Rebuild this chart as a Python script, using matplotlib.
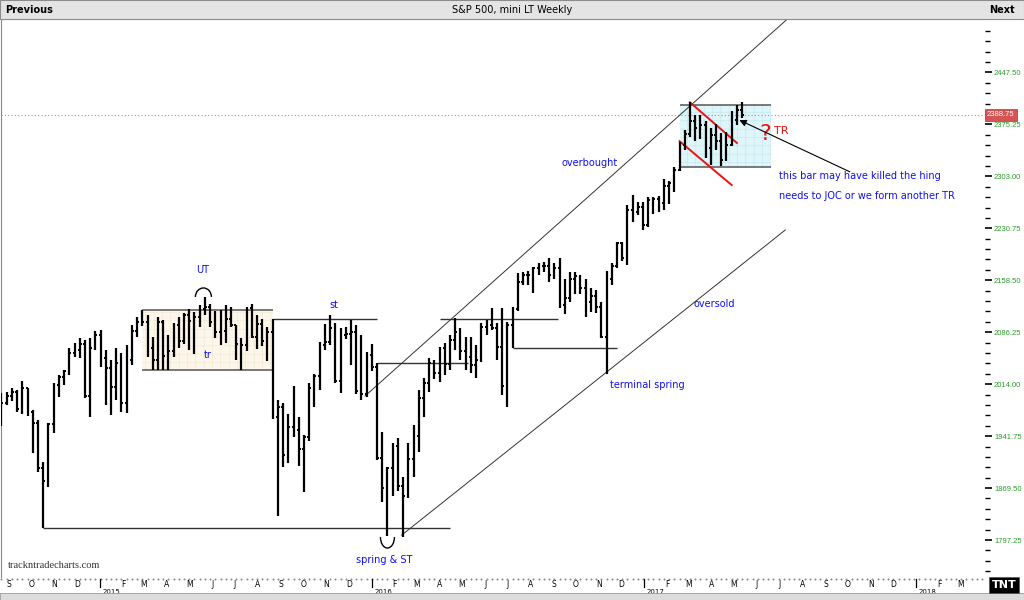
import numpy as np
import pandas as pd
import matplotlib
matplotlib.use("Agg")
import matplotlib.pyplot as plt
import matplotlib.dates as mdates
from matplotlib.patches import Rectangle, Arc
from matplotlib.transforms import blended_transform_factory
from matplotlib.ticker import FixedLocator

# ES mini, weekly bars (week ending Friday), Aug 2014 .. May 2017
week_end = pd.date_range("2014-08-22", periods=143, freq="W-FRI")

bar_open = [
    # 2014
    1960, 1988, 1997, 2003, 1980, 2008, 1975, 1960, 1898, 1880, 1958, 2013, 2024, 2032, 2057, 2062, 2070, 1998, 2064, 2082,
    # 2015
    2050, 2036, 2010, 2044, 1988, 2047, 2088, 2100, 2101, 2065, 2048, 2100, 2053, 2060, 2096, 2074, 2110, 2102, 2108, 2118,
    2122, 2100, 2086, 2088, 2104, 2096, 2070, 2068, 2120, 2080, 2098, 2074, 2086, 1968, 1982, 1915, 1955, 1950, 1924, 1940,
    2008, 2026, 2068, 2072, 2092, 2018, 2083, 2084, 2086, 2004, 2000, 2054,
    # 2016
    2038, 1912, 1870, 1898, 1928, 1872, 1858, 1910, 1942, 1995, 2016, 2044, 2030, 2064, 2042, 2075, 2086, 2060, 2052, 2040,
    2048, 2094, 2096, 2092, 2066, 2012, 2096, 2118, 2156, 2166, 2166, 2175, 2178, 2178, 2166, 2176, 2124, 2134, 2160, 2164,
    2148, 2128, 2136, 2122, 2080, 2160, 2178, 2210, 2190, 2256, 2254, 2260,
    # 2017
    2236, 2270, 2272, 2266, 2290, 2294, 2312, 2347, 2362, 2380, 2370, 2375, 2342, 2360, 2352, 2326, 2346, 2382, 2396,
]
bar_high = [
    2002, 2003, 2009, 2006, 2018, 2008, 1978, 1964, 1906, 1960, 2015, 2027, 2034, 2064, 2071, 2078, 2076, 2078, 2088, 2089,
    2062, 2048, 2064, 2057, 2068, 2096, 2107, 2117, 2110, 2080, 2107, 2103, 2082, 2099, 2108, 2113, 2118, 2114, 2124, 2135,
    2126, 2116, 2117, 2124, 2122, 2096, 2078, 2122, 2126, 2110, 2104, 2094, 2104, 1992, 1988, 1972, 2012, 1968, 1943, 2015,
    2028, 2073, 2097, 2110, 2099, 2092, 2093, 2103, 2096, 2082, 2059, 2070,
    2043, 1947, 1899, 1932, 1939, 1885, 1932, 1957, 2006, 2023, 2050, 2048, 2066, 2071, 2082, 2106, 2092, 2079, 2080, 2068,
    2099, 2103, 2120, 2099, 2120, 2100, 2121, 2168, 2170, 2171, 2177, 2183, 2184, 2189, 2183, 2189, 2160, 2170, 2170, 2166,
    2160, 2148, 2145, 2128, 2172, 2183, 2212, 2212, 2263, 2277, 2267, 2267,
    2274, 2274, 2276, 2300, 2296, 2316, 2351, 2368, 2406, 2388, 2388, 2380, 2370, 2376, 2364, 2365, 2394, 2402, 2406,
]
bar_low = [
    1956, 1985, 1990, 1975, 1972, 1970, 1918, 1892, 1814, 1871, 1946, 1996, 2013, 2027, 2052, 2050, 1995, 1968, 2062, 2038,
    1985, 1971, 1992, 1975, 1974, 2040, 2080, 2095, 2052, 2034, 2034, 2034, 2034, 2052, 2064, 2070, 2062, 2056, 2093, 2110,
    2094, 2078, 2069, 2071, 2094, 2048, 2034, 2060, 2078, 2063, 2067, 2046, 1966, 1831, 1899, 1905, 1940, 1900, 1864, 1935,
    1982, 2006, 2062, 2069, 2016, 2002, 2077, 2041, 2000, 1992, 1996, 2032,
    1909, 1850, 1803, 1858, 1866, 1801, 1855, 1885, 1920, 1968, 2003, 2021, 2017, 2027, 2034, 2061, 2048, 2034, 2030, 2023,
    2045, 2082, 2089, 2048, 1999, 1982, 2064, 2116, 2152, 2152, 2141, 2166, 2170, 2156, 2160, 2120, 2112, 2128, 2140, 2140,
    2108, 2114, 2113, 2078, 2028, 2152, 2176, 2186, 2180, 2240, 2249, 2228,
    2232, 2250, 2254, 2256, 2264, 2281, 2310, 2340, 2358, 2352, 2355, 2329, 2319, 2340, 2318, 2324, 2345, 2374, 2384,
]
bar_close = [
    1988, 1997, 2003, 1980, 2008, 1975, 1960, 1898, 1880, 1958, 2013, 2024, 2032, 2057, 2062, 2070, 1998, 2064, 2082, 2050,
    2036, 2010, 2044, 1988, 2047, 2088, 2100, 2101, 2065, 2048, 2100, 2053, 2060, 2096, 2074, 2110, 2102, 2108, 2118, 2122,
    2100, 2086, 2088, 2104, 2096, 2070, 2068, 2120, 2080, 2098, 2074, 2086, 1968, 1982, 1915, 1955, 1950, 1924, 1940, 2008,
    2026, 2068, 2072, 2092, 2018, 2083, 2084, 2086, 2004, 2000, 2054, 2038,
    1912, 1870, 1898, 1928, 1872, 1858, 1910, 1942, 1995, 2016, 2044, 2030, 2064, 2042, 2075, 2086, 2060, 2052, 2040, 2048,
    2094, 2096, 2092, 2066, 2012, 2096, 2118, 2156, 2166, 2166, 2175, 2178, 2178, 2166, 2176, 2124, 2134, 2160, 2164, 2148,
    2128, 2136, 2122, 2080, 2160, 2178, 2210, 2190, 2256, 2254, 2260, 2236,
    2270, 2272, 2266, 2290, 2294, 2312, 2347, 2362, 2380, 2370, 2375, 2342, 2360, 2352, 2326, 2346, 2382, 2396, 2388.75,
]
last_price = 2388.75

# price scale of the chart
price_ticks = [1797.25, 1869.50, 1941.75, 2014.00, 2086.25, 2158.50, 2230.75, 2303.00, 2375.25, 2447.50]

# drawn study lines: (start, end, price)
level_lines = [
    ("2014-10-17", "2016-04-15", 1814),
    ("2015-08-21", "2016-01-08", 2104),
    ("2016-01-08", "2016-05-09", 2043),
    ("2016-04-01", "2016-09-07", 2104),
    ("2016-07-08", "2016-11-25", 2064),
]
range_2015 = ("2015-02-27", "2015-08-21", 2034, 2117)
range_2017 = ("2017-02-17", "2017-06-20", 2316, 2402)
channel_upper = [("2015-12-23", 1997.6), ("2017-07-13", 2523.0)]
channel_lower = [("2016-02-10", 1804.0), ("2017-07-09", 2228.5)]
red_upper = [("2017-03-03", 2406.0), ("2017-05-05", 2349.5)]
red_lower = [("2017-02-17", 2352.0), ("2017-04-28", 2291.0)]

notes = [
    ("UT", "2015-05-19", 2172.8),
    ("tr", "2015-05-26", 2054.6),
    ("st", "2015-11-11", 2124.0),
    ("spring & ST", "2016-01-18", 1769.4),
    ("overbought", "2016-10-20", 2321.7),
    ("oversold", "2017-04-04", 2125.5),
    ("terminal spring", "2017-01-05", 2012.9),
]
comment_lines = ["this bar may have killed the hing", "needs to JOC or we form another TR"]


def dn(s):
    return mdates.date2num(pd.Timestamp(s))


W, H = 1024, 600
fig = plt.figure(figsize=(W / 100, H / 100), dpi=100)
fig.patch.set_facecolor("white")
plt.rcParams["hatch.linewidth"] = 0.4


def fx(px):
    return px / W


def fy(py):
    return 1 - py / H


ax = fig.add_axes([fx(1), fy(577), fx(985) - fx(1), fy(19) - fy(577)])
ax.set_xlim(dn("2014-08-21 08:00"), dn("2018-04-03"))
ax.set_ylim(1745.8, 2521.9)

# range boxes
for (a, b, lo, hi), fc, hc in [(range_2015, "#fdf6ea", "#f2e6d4"), (range_2017, "#def5f9", "#c3e6ee")]:
    ax.add_patch(Rectangle((dn(a), lo), dn(b) - dn(a), hi - lo, facecolor=fc,
                           edgecolor=hc, hatch="++", lw=0, zorder=1))
    ax.hlines([lo, hi], dn(a), dn(b), color="#555555", lw=1.1, zorder=2)

for a, b, p in level_lines:
    ax.hlines(p, dn(a), dn(b), color="#333333", lw=1.0, zorder=2)

for pts, col, lw in [(channel_upper, "#333333", 0.7), (channel_lower, "#333333", 0.7),
                     (red_upper, "#ee1111", 1.4), (red_lower, "#ee1111", 1.4)]:
    ax.plot([dn(p[0]) for p in pts], [p[1] for p in pts], color=col, lw=lw, zorder=2)

ax.axhline(last_price, color="#e07878", ls=(0, (1, 2)), lw=0.8, zorder=1)

# OHLC bars
d = mdates.date2num(week_end)
ax.vlines(d, bar_low, bar_high, color="black", lw=1.6, zorder=3)
ax.hlines(bar_open, d - 2.4, d, color="black", lw=1.4, zorder=3)
ax.hlines(bar_close, d, d + 2.4, color="black", lw=1.4, zorder=3)

# annotations
for txt, when, p in notes:
    ax.text(dn(when), p, txt, color="#1010ee", fontsize=7, ha="center", va="center", zorder=4)
for i, txt in enumerate(comment_lines):
    ax.text(dn("2017-06-30"), 2303 - 27.2 * i, txt, color="#1010ee", fontsize=7, ha="left", va="center")
ax.text(dn("2017-06-12"), 2362, "?", color="#ee1111", fontsize=16, ha="center", va="center")
ax.text(dn("2017-07-04"), 2366, "TR", color="#ee1111", fontsize=8, ha="center", va="center")
ax.annotate("", xy=(dn("2017-05-05"), 2382.9), xytext=(dn("2017-10-07"), 2307.7),
            arrowprops=dict(arrowstyle="-|>", color="black", lw=0.8, mutation_scale=10))
ax.add_patch(Arc((dn("2015-05-20"), 2135.3), 21.5, 25, theta1=0, theta2=180, color="black", lw=1.0))
ax.add_patch(Arc((dn("2016-01-22"), 1801.4), 18.8, 30.6, theta1=180, theta2=360, color="black", lw=1.0))

# price axis on the right
ax.yaxis.tick_right()
ax.yaxis.set_major_locator(FixedLocator(price_ticks))
ax.yaxis.set_minor_locator(FixedLocator([price_ticks[0] + 14.45 * k for k in range(-3, 50)]))
ax.set_yticklabels([f"{v:.2f}" for v in price_ticks])
ax.tick_params(axis="y", which="major", length=5, width=1.2, pad=1.5, labelsize=5.5,
               labelcolor="#2e9a2e", colors="black")
ax.tick_params(axis="y", which="minor", length=3.5, width=1.0)
for t in ax.get_yticklabels():
    t.set_color("#2e9a2e")
    t.set_fontfamily("Liberation Sans")
ax.text(1.002, last_price, f"{last_price:.2f}", transform=blended_transform_factory(ax.transAxes, ax.transData),
        fontsize=5.5, color="white", va="center", ha="left", family="Liberation Sans",
        bbox=dict(boxstyle="square,pad=0.3", fc="#d65454", ec="#b03030", lw=0.5))

# time axis
months = pd.date_range("2014-09-01", "2018-03-01", freq="MS")
ax.set_xticks(mdates.date2num(months))
ax.set_xticklabels(["" if m.month == 1 else m.strftime("%b")[0] for m in months])
ax.tick_params(axis="x", length=0, pad=2.5, labelsize=5.5)
bt = blended_transform_factory(ax.transData, ax.transAxes)
dots = pd.date_range("2014-08-22", "2018-03-30", freq="W-FRI")
ax.plot(mdates.date2num(dots), [-0.004] * len(dots), ls="none", marker="s", ms=0.45,
        color="#888888", transform=bt, clip_on=False)
for m in months[months.month == 1]:
    ax.plot([dn(m)] * 2, [-0.003, -0.018], color="black", lw=0.9, transform=bt, clip_on=False)
    ax.text(dn(m) + 3, -0.027, str(m.year), transform=bt, fontsize=5, ha="left", va="center")

for side in ["right", "bottom"]:
    ax.spines[side].set_visible(False)
ax.spines["top"].set_color("#888888")
ax.spines["left"].set_color("#888888")

# title bar, footer, logo and watermark
fig.patches.append(Rectangle((0, fy(19)), 1, 19 / H, transform=fig.transFigure,
                             facecolor="#e4e4e4", edgecolor="#8c8c8c", lw=0.8))
fig.patches.append(Rectangle((0, 0), 1, 7 / H, transform=fig.transFigure,
                             facecolor="#dcdcdc", edgecolor="#9a9a9a", lw=0.6))
fig.text(fx(5), fy(10), "Previous", fontsize=7, weight="bold", va="center", ha="left")
fig.text(fx(512), fy(10), "S&P 500, mini LT Weekly", fontsize=7, va="center", ha="center")
fig.text(fx(1015), fy(10), "Next", fontsize=7, weight="bold", va="center", ha="right")
fig.text(fx(8), fy(566), "trackntradecharts.com", fontsize=7.5, family="Liberation Serif",
         color="#333333", va="center", ha="left")
fig.text(fx(1004), fy(585), "TNT", fontsize=8, weight="bold", color="white", va="center", ha="center",
         bbox=dict(boxstyle="square,pad=0.25", fc="black", ec="#555555", lw=0.5))

fig.savefig("out.png", dpi=100)
